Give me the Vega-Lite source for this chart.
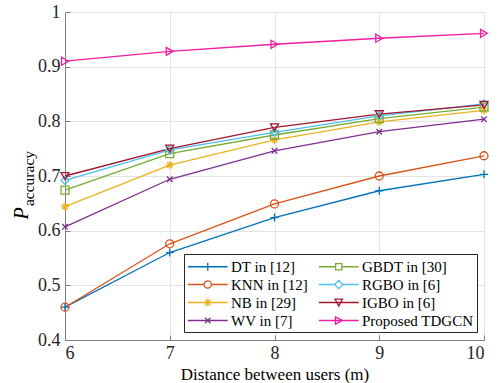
{
  "$schema": "https://vega.github.io/schema/vega-lite/v6.json",
  "width": 419,
  "height": 328,
  "autosize": {"type": "none"},
  "padding": {"left": 65, "top": 12, "right": 18, "bottom": 43},
  "background": "white",
  "config": {
    "view": {"stroke": null},
    "font": "Liberation Serif",
    "axis": {
      "labelFont": "Liberation Serif",
      "titleFont": "Liberation Serif",
      "labelFontSize": 18,
      "titleFontSize": 18,
      "titleFontWeight": "normal",
      "labelColor": "#262626",
      "titleColor": "#000000",
      "domainColor": "#808080",
      "tickColor": "#808080",
      "gridColor": "#e3e3e3",
      "gridWidth": 1
    }
  },
  "data": {
    "values": [
      {"series": "DT in [12]", "d": 6, "p": 0.46},
      {"series": "DT in [12]", "d": 7, "p": 0.56},
      {"series": "DT in [12]", "d": 8, "p": 0.624},
      {"series": "DT in [12]", "d": 9, "p": 0.673},
      {"series": "DT in [12]", "d": 10, "p": 0.703},
      {"series": "KNN in [12]", "d": 6, "p": 0.46},
      {"series": "KNN in [12]", "d": 7, "p": 0.576},
      {"series": "KNN in [12]", "d": 8, "p": 0.649},
      {"series": "KNN in [12]", "d": 9, "p": 0.70},
      {"series": "KNN in [12]", "d": 10, "p": 0.737},
      {"series": "NB in [29]", "d": 6, "p": 0.644},
      {"series": "NB in [29]", "d": 7, "p": 0.72},
      {"series": "NB in [29]", "d": 8, "p": 0.766},
      {"series": "NB in [29]", "d": 9, "p": 0.799},
      {"series": "NB in [29]", "d": 10, "p": 0.82},
      {"series": "WV in [7]", "d": 6, "p": 0.607},
      {"series": "WV in [7]", "d": 7, "p": 0.694},
      {"series": "WV in [7]", "d": 8, "p": 0.746},
      {"series": "WV in [7]", "d": 9, "p": 0.781},
      {"series": "WV in [7]", "d": 10, "p": 0.804},
      {"series": "GBDT in [30]", "d": 6, "p": 0.674},
      {"series": "GBDT in [30]", "d": 7, "p": 0.741},
      {"series": "GBDT in [30]", "d": 8, "p": 0.775},
      {"series": "GBDT in [30]", "d": 9, "p": 0.805},
      {"series": "GBDT in [30]", "d": 10, "p": 0.826},
      {"series": "RGBO in [6]", "d": 6, "p": 0.692},
      {"series": "RGBO in [6]", "d": 7, "p": 0.748},
      {"series": "RGBO in [6]", "d": 8, "p": 0.78},
      {"series": "RGBO in [6]", "d": 9, "p": 0.81},
      {"series": "RGBO in [6]", "d": 10, "p": 0.832},
      {"series": "IGBO in [6]", "d": 6, "p": 0.70},
      {"series": "IGBO in [6]", "d": 7, "p": 0.75},
      {"series": "IGBO in [6]", "d": 8, "p": 0.789},
      {"series": "IGBO in [6]", "d": 9, "p": 0.813},
      {"series": "IGBO in [6]", "d": 10, "p": 0.83},
      {"series": "Proposed TDGCN", "d": 6, "p": 0.91},
      {"series": "Proposed TDGCN", "d": 7, "p": 0.928},
      {"series": "Proposed TDGCN", "d": 8, "p": 0.941},
      {"series": "Proposed TDGCN", "d": 9, "p": 0.952},
      {"series": "Proposed TDGCN", "d": 10, "p": 0.961}
    ]
  },
  "encoding": {
    "x": {
      "field": "d", "type": "quantitative",
      "scale": {"domain": [6, 10], "nice": false, "zero": false},
      "axis": {"values": [6, 7, 8, 9, 10], "title": "Distance between users (m)", "titleFontSize": 17, "tickSize": -5, "labelPadding": 9, "titleY": 39, "titleBaseline": "alphabetic"}
    }
  },
  "resolve": {"axis": {"y": "independent"}},
  "layer": [
    {
      "mark": {"type": "line", "strokeWidth": 1.3},
      "encoding": {
        "y": {
          "field": "p", "type": "quantitative",
          "scale": {"domain": [0.4, 1], "nice": false, "zero": false},
          "axis": {"orient": "left", "values": [0.4, 0.5, 0.6, 0.7, 0.8, 0.9, 1], "format": "~g", "title": "P", "titleFontStyle": "italic", "titleFontSize": 20, "titleAngle": -90, "titleAlign": "center", "titleBaseline": "alphabetic", "titleX": -38, "titleY": 201, "tickSize": -5, "labelPadding": 10}
        },
        "color": {
          "field": "series", "type": "nominal",
          "scale": {
            "domain": ["DT in [12]", "KNN in [12]", "NB in [29]", "WV in [7]", "GBDT in [30]", "RGBO in [6]", "IGBO in [6]", "Proposed TDGCN"],
            "range": ["#0072BD", "#D95319", "#EDB120", "#7E2F8E", "#77AC30", "#4DBEEE", "#A2142F", "#F01DA0"]
          },
          "legend": {
            "orient": "none",
            "legendX": 119,
            "legendY": 242,
            "title": null,
            "columns": 2,
            "columnPadding": 8,
            "rowPadding": 0,
            "padding": 3,
            "strokeColor": "#262626",
            "fillColor": "white",
            "labelFont": "Liberation Serif",
            "labelFontSize": 15,
            "labelColor": "#000000",
            "labelOffset": 25,
            "symbolSize": 300,
            "symbolStrokeWidth": 1.3,
            "symbolFillColor": "transparent",
            "symbolType": "stroke",
            "encode": {
              "symbols": {
                "update": {
                  "shape": {"signal": "{'DT in [12]': 'M-1,0H3.6M1.3,-0.45V0.45', 'KNN in [12]': 'M-1,0H0.88M1.72,0H3.6M0.88,0A0.42,0.42 0 1,0 1.72,0A0.42,0.42 0 1,0 0.88,0', 'NB in [29]': 'M-1,0H3.6M1.3,-0.45V0.45M0.98,-0.32L1.62,0.32M0.98,0.32L1.62,-0.32', 'WV in [7]': 'M-1,0H3.6M0.98,-0.32L1.62,0.32M0.98,0.32L1.62,-0.32', 'GBDT in [30]': 'M-1,0H0.94M1.66,0H3.6M0.94,-0.36H1.66V0.36H0.94Z', 'RGBO in [6]': 'M-1,0H0.82M1.78,0H3.6M0.82,0L1.3,-0.48L1.78,0L1.3,0.48Z', 'IGBO in [6]': 'M-1,0H3.6M0.88,-0.38H1.72L1.3,0.42Z', 'Proposed TDGCN': 'M-1,0H3.6M0.92,-0.42V0.42L1.72,0Z'}[datum.value]"},
                  "fill": {"value": "transparent"}
                }
              }
            }
          }
        }
      }
    },
    {
      "mark": {"type": "point", "filled": false, "size": 64, "strokeWidth": 1.3, "opacity": 1},
      "encoding": {
        "y": {
          "field": "p", "type": "quantitative",
          "axis": {"orient": "right", "title": "accuracy", "titleFontSize": 15.5, "titleAngle": 270, "titleAlign": "center", "titleBaseline": "alphabetic", "titleX": -451, "titleY": 166, "labels": false, "ticks": false, "domain": false, "grid": false}
        },
        "stroke": {
          "field": "series", "type": "nominal", "legend": null,
          "scale": {
            "domain": ["Proposed TDGCN", "IGBO in [6]", "RGBO in [6]", "GBDT in [30]", "WV in [7]", "NB in [29]", "KNN in [12]", "DT in [12]"],
            "range": ["#F01DA0", "#A2142F", "#4DBEEE", "#77AC30", "#7E2F8E", "#EDB120", "#D95319", "#0072BD"]
          }
        },
        "shape": {
          "field": "series", "type": "nominal", "legend": null,
          "scale": {
            "domain": ["Proposed TDGCN", "IGBO in [6]", "RGBO in [6]", "GBDT in [30]", "WV in [7]", "NB in [29]", "KNN in [12]", "DT in [12]"],
            "range": ["triangle-right", "triangle-down", "diamond", "square", "M-0.7,-0.7L0.7,0.7M-0.7,0.7L0.7,-0.7", "M0,-1V1M-1,0H1M-0.7,-0.7L0.7,0.7M-0.7,0.7L0.7,-0.7", "circle", "M0,-1V1M-1,0H1"]
          }
        }
      }
    }
  ]
}
